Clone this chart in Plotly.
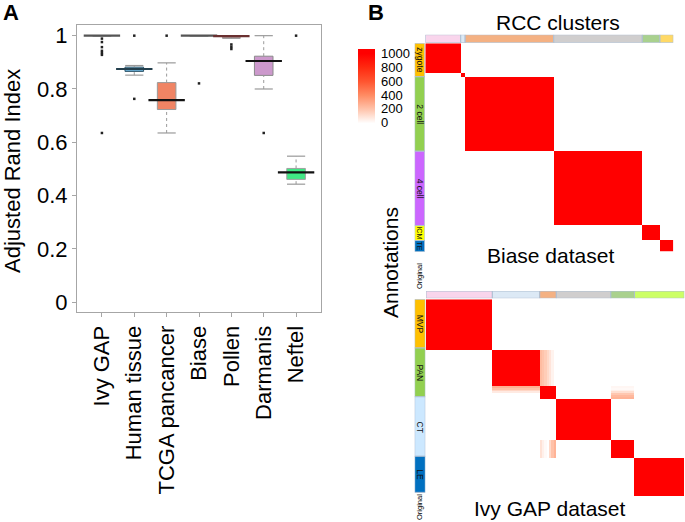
import numpy as np
import plotly.graph_objects as go

W, H = 685, 522
FONT = "Liberation Sans, Arial, sans-serif"

# ---------------- Panel A data ----------------
datasets = ["Ivy GAP", "Human tissue", "TCGA pancancer", "Biase", "Pollen", "Darmanis", "Neftel"]
q1_vals = [1.0, 0.866, 0.723, 1.0, 0.995, 0.851, 0.461]
median_vals = [1.0, 0.875, 0.758, 1.0, 0.998, 0.905, 0.487]
q3_vals = [1.0, 0.882, 0.824, 1.0, 1.0, 0.923, 0.502]
lower_whisker = [1.0, 0.852, 0.635, 1.0, 0.990, 0.800, 0.443]
upper_whisker = [1.0, 0.888, 0.898, 1.0, 1.0, 1.0, 0.548]
outlier_dataset = ["Ivy GAP"] * 7 + ["Human tissue"] * 2 + ["TCGA pancancer", "Biase"] + ["Pollen"] * 3 + ["Darmanis", "Neftel"]
outlier_value = [0.989, 0.976, 0.957, 0.943, 0.935, 0.928, 0.635,
                 1.0, 0.763, 1.0, 0.821, 0.967, 0.958, 0.950, 0.635, 1.0]
y_ticks = [0, 0.2, 0.4, 0.6, 0.8, 1.0]
y_tick_labels = ["0", "0.2", "0.4", "0.6", "0.8", "1"]

box_fill = ["#555555", "#6CB0D6", "#F08464", "#555555", "#7A3535", "#CC99CC", "#40E884"]
box_line = ["#555555", "#2F5568", "#9A9A9A", "#555555", "#6A3030", "#8A8A8A", "#A0A0A0"]
median_color = ["#555555", "#24404E", "#111111", "#555555", "#6A3030", "#111111", "#111111"]

# ---------------- Panel B data ----------------
heat_values = [0, 200, 400, 600, 800, 1000]
biase_cluster_sizes = [8, 1, 20, 20, 4, 3]
biase_cluster_within = [1000, 1000, 1000, 1000, 1000, 1000]
biase_orig_labels = ["zygote", "2 cell", "4 cell", "ICM", "TE"]
biase_orig_sizes = [9, 20, 20, 4, 3]

ivy_cluster_sizes = [28, 20, 7, 23, 10, 21]
ivy_cluster_within = [1000, 1000, 1000, 1000, 1000, 1000]
ivy_pan_rows_vs_orange_cols = [230, 200, 170, 130, 90, 40, 0]
ivy_orange_rows_vs_pan_cols = [270, 210, 140, 70, 0, 0, 0]
ivy_orange_rows_vs_green_cols = [30, 20, 50, 110, 190, 240, 260]
ivy_green_rows_vs_orange_cols = [100, 50, 20, 0, 130, 210, 260]
ivy_orig_labels = ["MVP", "PAN", "CT", "LE"]
ivy_orig_sizes = [27, 27, 33, 20]

biase_cluster_colors = ["#F9D5EC", "#DCE9F5", "#F4B183", "#D0CECE", "#A9D18E", "#FFD966"]
ivy_cluster_colors = ["#F9D5EC", "#DCE9F5", "#F4B183", "#D0CECE", "#A9D18E", "#CCFF66"]
biase_orig_colors = ["#FFC000", "#92D050", "#CC66FF", "#FFFF00", "#0070C0"]
ivy_orig_colors = ["#FFC000", "#92D050", "#CCE8FF", "#0070C0"]
heat_colors = ["#FFFFFF", "#FFC4AC", "#FF8C64", "#FF5530", "#FF2A10", "#FF0000"]


def px(x):
    return x / W


def py(y):
    return 1 - y / H


def labels_from_sizes(sizes):
    return np.repeat(np.arange(len(sizes)), sizes)


def block_matrix(sizes, within):
    lab = labels_from_sizes(sizes)
    z = np.zeros((len(lab), len(lab)))
    for k, v in enumerate(within):
        m = lab == k
        z[np.ix_(m, m)] = v
    return z, lab


z_biase, _ = block_matrix(biase_cluster_sizes, biase_cluster_within)
z_ivy, lab_ivy = block_matrix(ivy_cluster_sizes, ivy_cluster_within)
pan = np.where(lab_ivy == 1)[0]
ora = np.where(lab_ivy == 2)[0]
grn = np.where(lab_ivy == 4)[0]
for i, o in enumerate(ora):
    z_ivy[pan, o] = ivy_pan_rows_vs_orange_cols[i]
    z_ivy[o, pan] = ivy_orange_rows_vs_pan_cols[i]
    z_ivy[o, grn] = ivy_orange_rows_vs_green_cols[i]
    z_ivy[grn, o] = ivy_green_rows_vs_orange_cols[i]

ZMIN, ZMAX = -67, 1067
colorscale = [[0, heat_colors[0]]]
for v, c in zip(heat_values, heat_colors):
    colorscale.append([(v - ZMIN) / (ZMAX - ZMIN), c])
colorscale.append([1, heat_colors[-1]])

fig = go.Figure()

# ---------------- Panel A ----------------
for i, d in enumerate(datasets):
    if lower_whisker[i] < q1_vals[i]:
        fig.add_trace(go.Scatter(x=[d, d], y=[lower_whisker[i], q1_vals[i]], mode="lines",
                                 line=dict(color="#9A9A9A", width=1, dash="dot"), hoverinfo="skip"))
    if upper_whisker[i] > q3_vals[i]:
        fig.add_trace(go.Scatter(x=[d, d], y=[q3_vals[i], upper_whisker[i]], mode="lines",
                                 line=dict(color="#9A9A9A", width=1, dash="dot"), hoverinfo="skip"))
cap_x, cap_y = [], []
for i, d in enumerate(datasets):
    if lower_whisker[i] < q1_vals[i]:
        cap_x.append(d); cap_y.append(lower_whisker[i])
    if upper_whisker[i] > q3_vals[i]:
        cap_x.append(d); cap_y.append(upper_whisker[i])
fig.add_trace(go.Scatter(x=cap_x, y=cap_y, mode="markers",
                         marker=dict(symbol="line-ew", size=13, line=dict(color="#9A9A9A", width=1.2))))

for i, d in enumerate(datasets):
    fig.add_trace(go.Box(x=[d], q1=[q1_vals[i]], median=[median_vals[i]], q3=[q3_vals[i]],
                         lowerfence=[q1_vals[i]], upperfence=[q3_vals[i]],
                         fillcolor=box_fill[i], line=dict(color=box_line[i], width=1),
                         boxpoints=False, whiskerwidth=0, name=d))

fig.add_trace(go.Scatter(x=datasets, y=median_vals, mode="markers",
                         marker=dict(symbol="line-ew", size=26, line=dict(color=median_color, width=2.2))))
fig.add_trace(go.Scatter(x=outlier_dataset, y=outlier_value, mode="markers",
                         marker=dict(symbol="square", size=2.5, color="#222222")))

# ---------------- Panel B: heatmaps ----------------
def add_heat_panel(z, clus_sizes, clus_colors, orig_sizes, orig_colors, orig_labels,
                   xa, ya, xt, yt, xl, yl, showscale):
    n = z.shape[0]
    fig.add_trace(go.Heatmap(z=z, x=np.arange(n), y=np.arange(n), xaxis=xa, yaxis=ya,
                             colorscale=colorscale, zmin=ZMIN, zmax=ZMAX, showscale=showscale,
                             colorbar=dict(x=px(358), xanchor="left", y=py(88), yanchor="middle",
                                           len=79, lenmode="pixels", thickness=17,
                                           thicknessmode="pixels", outlinewidth=0,
                                           xpad=0, ypad=0,
                                           tickvals=heat_values, ticks="outside", ticklen=4,
                                           tickcolor="white",
                                           tickfont=dict(size=13, family=FONT, color="black"))))
    start = 0
    for s, c in zip(clus_sizes, clus_colors):
        fig.add_trace(go.Bar(x=[s], y=[0], base=[start - 0.5], orientation="h", width=1,
                             xaxis=xt, yaxis=yt, marker=dict(color=c, line=dict(color="#AEBFD2", width=1))))
        start += s
    start = 0
    for s, c, lab in zip(orig_sizes, orig_colors, orig_labels):
        fig.add_trace(go.Bar(x=[0], y=[s], base=[start - 0.5], width=1,
                             xaxis=xl, yaxis=yl, marker=dict(color=c, line=dict(color="#AEBFD2", width=1))))
        fig.add_annotation(x=0, y=start + s / 2 - 0.5, xref=xl.replace("axis", ""), yref=yl.replace("axis", ""),
                           text=lab, textangle=90, showarrow=False,
                           font=dict(size=8.5 if s > 5 else 7, family=FONT, color="#111111"))
        start += s
    return n


nb = add_heat_panel(z_biase, biase_cluster_sizes, biase_cluster_colors, biase_orig_sizes,
                    biase_orig_colors, biase_orig_labels, "x2", "y2", "x3", "y3", "x4", "y4", True)
ni = add_heat_panel(z_ivy, ivy_cluster_sizes, ivy_cluster_colors, ivy_orig_sizes,
                    ivy_orig_colors, ivy_orig_labels, "x5", "y5", "x6", "y6", "x7", "y7", False)

hidden = dict(visible=False, fixedrange=True)
fig.update_layout(
    width=W, height=H, margin=dict(l=0, r=0, t=0, b=0, autoexpand=False),
    paper_bgcolor="white", plot_bgcolor="white", showlegend=False,
    barmode="overlay", boxgap=0.18, boxmode="overlay",
    font=dict(family=FONT, color="black"),
    xaxis=dict(domain=[px(77), px(321)], type="category", categoryorder="array",
               categoryarray=datasets, range=[-0.77, 6.77], showline=True, mirror=True,
               linecolor="#A6A6A6", linewidth=1, ticks="outside", ticklen=4, tickcolor="#A6A6A6",
               tickangle=-90, tickfont=dict(size=22, family=FONT, color="black"), showgrid=False,
               zeroline=False, automargin=False),
    yaxis=dict(domain=[py(312), py(25)], range=[-0.0364, 1.040], showline=True, mirror=True,
               linecolor="#A6A6A6", linewidth=1, ticks="outside", ticklen=4, tickcolor="#A6A6A6",
               tickvals=y_ticks, ticktext=y_tick_labels,
               tickfont=dict(size=22, family=FONT, color="black"), showgrid=False, zeroline=False,
               automargin=False),
    xaxis2=dict(domain=[px(425.3), px(673.3)], range=[-0.5, nb - 0.5], anchor="y2", **hidden),
    yaxis2=dict(domain=[py(251.7), py(43.3)], range=[nb - 0.5, -0.5], anchor="x2", **hidden),
    xaxis3=dict(domain=[px(425.3), px(673.3)], range=[-0.5, nb - 0.5], anchor="y3", **hidden),
    yaxis3=dict(domain=[py(42.7), py(34.7)], range=[-0.5, 0.5], anchor="x3", **hidden),
    xaxis4=dict(domain=[px(414.7), px(424.7)], range=[-0.5, 0.5], anchor="y4", **hidden),
    yaxis4=dict(domain=[py(251.7), py(43.3)], range=[nb - 0.5, -0.5], anchor="x4", **hidden),
    xaxis5=dict(domain=[px(426), px(684.3)], range=[-0.5, ni - 0.5], anchor="y5", **hidden),
    yaxis5=dict(domain=[py(496), py(299.3)], range=[ni - 0.5, -0.5], anchor="x5", **hidden),
    xaxis6=dict(domain=[px(426), px(684.3)], range=[-0.5, ni - 0.5], anchor="y6", **hidden),
    yaxis6=dict(domain=[py(298.3), py(291)], range=[-0.5, 0.5], anchor="x6", **hidden),
    xaxis7=dict(domain=[px(414.7), px(425.3)], range=[-0.5, 0.5], anchor="y7", **hidden),
    yaxis7=dict(domain=[py(496), py(299.3)], range=[ni - 0.5, -0.5], anchor="x7", **hidden),
)

texts = [
    dict(text="<b>A</b>", x=10.5, y=13, size=22, angle=0),
    dict(text="<b>B</b>", x=376, y=13, size=22, angle=0),
    dict(text="Adjusted Rand Index", x=12, y=171, size=22, angle=-90),
    dict(text="RCC clusters", x=558, y=22, size=21, angle=0),
    dict(text="Biase dataset", x=550, y=255, size=21, angle=0),
    dict(text="Ivy GAP dataset", x=549.5, y=508, size=21, angle=0),
    dict(text="Annotations", x=390, y=263, size=21, angle=-90),
    dict(text="Original", x=419, y=276, size=7.5, angle=-90),
    dict(text="Original", x=419, y=507, size=7.5, angle=-90),
]
for t in texts:
    fig.add_annotation(x=px(t["x"]), y=py(t["y"]), xref="paper", yref="paper", text=t["text"],
                       textangle=t["angle"], showarrow=False, xanchor="center", yanchor="middle",
                       font=dict(size=t["size"], family=FONT, color="black"))

fig.write_html("out.html", config={"displayModeBar": False},
               post_script="document.body.style.margin='0px';document.body.style.overflow='hidden';")
